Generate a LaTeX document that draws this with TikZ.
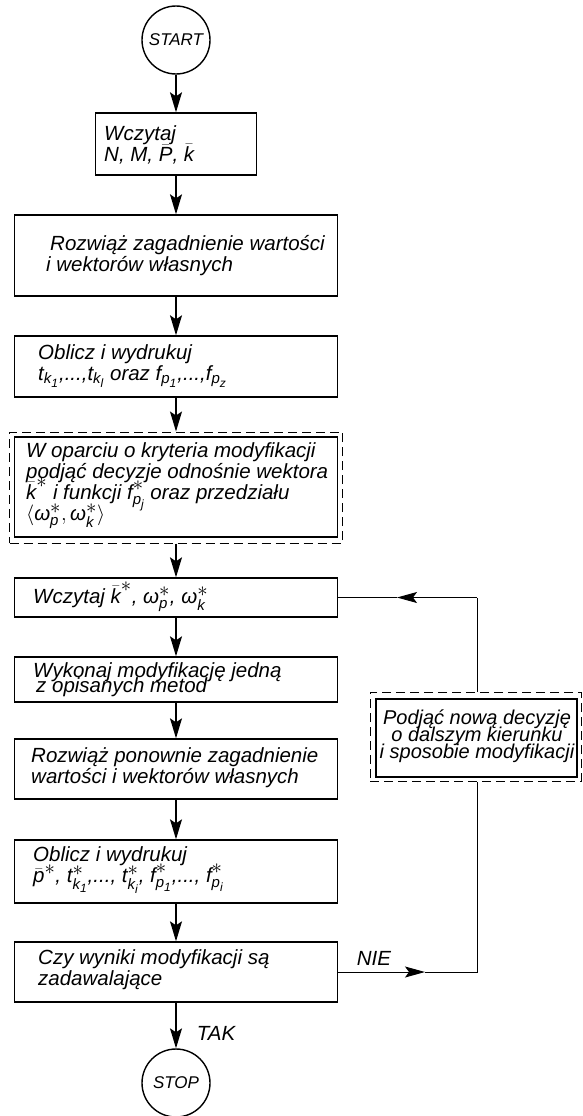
\documentclass[tikz,border=0pt]{standalone}
\usepackage{amsmath}
\usepackage{fontspec}
\setmainfont{Liberation Sans}
\usetikzlibrary{arrows.meta}
\DeclareMathSizes{20.5}{20.5}{15}{12}
\newcommand{\tx}[1]{\text{#1}}
\newcommand{\st}{{\textstyle\ast}}
\AtBeginDocument{\setlength{\lineskiplimit}{-100pt}\setlength{\lineskip}{0pt}}
\begin{document}
\begin{tikzpicture}[x=1pt,y=-1pt,
  every node/.style={font=\fontsize{20.5}{21}\selectfont\itshape},
  box/.style={draw, line width=1.4pt, inner sep=0pt},
  dbox/.style={draw, dash pattern=on 9pt off 5pt, line width=1pt, inner sep=0pt},
  term/.style={draw, circle, line width=1.4pt, inner sep=0pt, minimum size=68pt, font=\fontsize{17}{18}\selectfont\itshape},
  lbl/.style={anchor=west, align=left, inner sep=0pt},
  flow/.style={line width=1.3pt, -{Stealth[length=20pt,width=12pt,inset=4pt]}},
  thinline/.style={line width=1pt},
  thinarr/.style={line width=1pt, -{Stealth[length=20pt,width=11pt,inset=4pt]}},
]
\useasboundingbox (0,0) rectangle (582,1116);

% terminals
\node[term] (start) at (176,40) {START};
\node[term] (stop) at (176,1083) {STOP};

% boxes
\node[box, minimum width=161pt, minimum height=62pt] (b1) at (176,144) {};
\node[box, minimum width=323pt, minimum height=81pt] (b2) at (176,255.5) {};
\node[box, minimum width=323pt, minimum height=61pt] (b3) at (176,366.5) {};
\node[dbox, minimum width=333pt, minimum height=111pt] (b4o) at (176,487.5) {};
\node[box, minimum width=323pt, minimum height=100pt] (b4) at (176,487) {};
\node[box, minimum width=323pt, minimum height=39pt] (b5) at (176,597.5) {};
\node[box, minimum width=323pt, minimum height=45pt] (b6) at (176,679.5) {};
\node[box, minimum width=323pt, minimum height=60pt] (b7) at (176,769) {};
\node[box, minimum width=323pt, minimum height=63pt] (b8) at (176,871.5) {};
\node[box, minimum width=323pt, minimum height=60pt] (b9) at (176,972) {};
\node[dbox, minimum width=211pt, minimum height=89pt] (rbo) at (475.5,736.5) {};
\node[box, line width=1.2pt, minimum width=201pt, minimum height=78pt] (rb) at (476.5,738) {};

% texts
\node[lbl] (t1) at (104,145) {Wczytaj\\N, M, $\bar{\tx{P}}$, $\bar{\tx{k}}$};
\node[lbl] (t2) at (46,256) {\hspace{4pt}Rozwiąż zagadnienie wartości\\i wektorów własnych};
\node[lbl] (t3) at (38,366) {Oblicz i wydrukuj\\
  $\tx{t}_{\tx{k}_{\tx{1}}}$,...,$\tx{t}_{\tx{k}_{\tx{l}}}$ oraz $\tx{f}_{\tx{p}_{\tx{1}}}$,...,$\tx{f}_{\tx{p}_{\tx{z}}}$};
\node[lbl] (t4) at (26,486) {W oparciu o kryteria modyfikacji\\
  podjąć decyzje odnośnie wektora\\
  $\bar{\tx{k}}^{\st}$ i funkcji $\tx{f}^{\st}_{\tx{p}_{\tx{j}}}$ oraz przedziału\\
  $\langle\tx{ω}^{\st}_{\tx{p}},\tx{ω}^{\st}_{\tx{k}}\rangle$};
\node[lbl] (t5) at (33,597) {Wczytaj $\bar{\tx{k}}^{\st}$, $\tx{ω}^{\st}_{\tx{p}}$, $\tx{ω}^{\st}_{\tx{k}}$};
\node[lbl, font=\fontsize{20.5}{15}\selectfont\itshape] (t6) at (33,680) {Wykonaj modyfikację jedną\\\hspace{3pt}z opisanych metod};
\node[lbl] (t7) at (31,768) {Rozwiąż ponownie zagadnienie\\wartości i wektorów własnych};
\node[lbl] (t8) at (33,870) {Oblicz i wydrukuj\\
  $\bar{\tx{p}}^{\st}$, $\tx{t}^{\st}_{\tx{k}_{\tx{1}}}$,..., $\tx{t}^{\st}_{\tx{k}_{\tx{i}}}$, $\tx{f}^{\st}_{\tx{p}_{\tx{1}}}$,..., $\tx{f}^{\st}_{\tx{p}_{\tx{i}}}$};
\node[lbl] (t9) at (38,970) {Czy wyniki modyfikacji są\\zadawalające};
\node[align=center, inner sep=0pt, font=\fontsize{20}{17}\selectfont\itshape] (rt) at (477,736) {Podjąć nową decyzję\\o dalszym kierunku\\i sposobie modyfikacji};
\node[inner sep=0pt] (nie) at (374,958) {NIE};
\node[inner sep=0pt] (tak) at (216,1033) {TAK};

% main flow
\draw[flow] (start) -- (b1);
\draw[flow] (b1) -- (b2);
\draw[flow] (b2) -- (b3);
\draw[flow] (b3) -- (b4o);
\draw[flow] (b4o) -- (b5);
\draw[flow] (b5) -- (b6);
\draw[flow] (b6) -- (b7);
\draw[flow] (b7) -- (b8);
\draw[flow] (b8) -- (b9);
\draw[flow] (b9) -- (stop);

% loop back
\coordinate (lc) at (477,597.5);
\coordinate (la) at (397,597.5);
\draw[thinline] (rbo.north -| lc) -- (lc);
\draw[thinarr] (lc) -- (la);
\draw[thinline] (la) -- (b5.east);

% NIE branch
\coordinate (na) at (425,972);
\coordinate (nc) at (477,972);
\draw[thinarr] (b9.east) -- (na);
\draw[thinline] (na) -- (nc) -- (rbo.south -| nc);
\end{tikzpicture}
\end{document}
